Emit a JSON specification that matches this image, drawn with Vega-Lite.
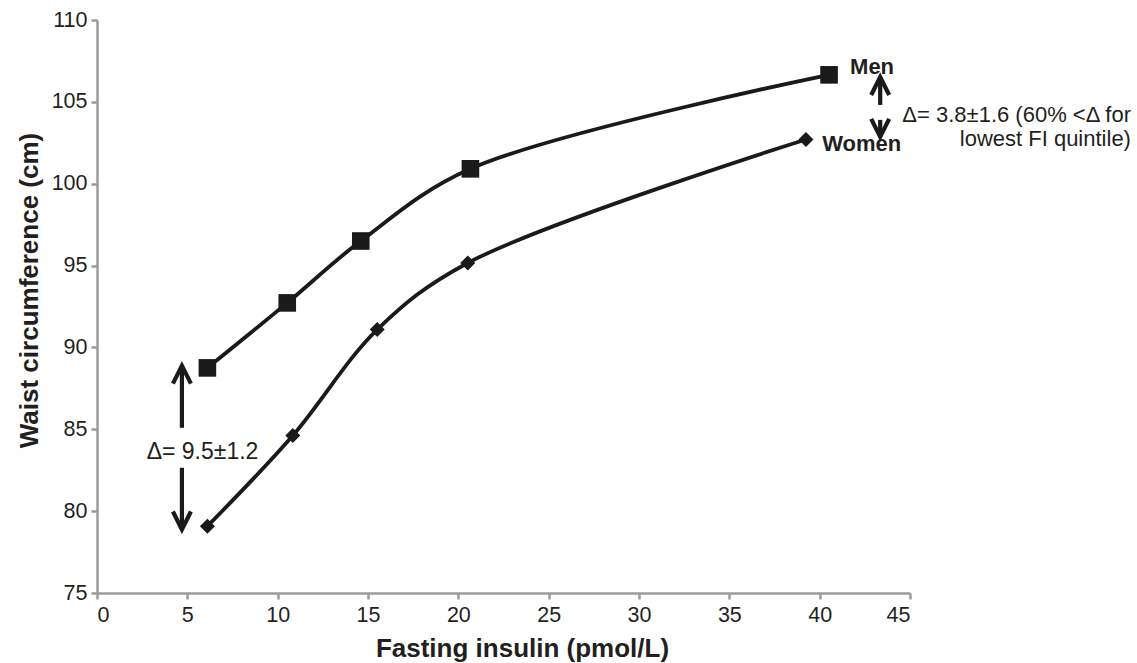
{
  "$schema": "https://vega.github.io/schema/vega-lite/v6.json",
  "width": 813,
  "height": 573,
  "autosize": {"type": "none"},
  "padding": {"left": 97, "top": 20, "right": 227, "bottom": 70},
  "background": "white",
  "config": {
    "view": {"stroke": null},
    "font": "Liberation Sans",
    "axis": {
      "grid": false,
      "domainColor": "#9b9b9b",
      "domainWidth": 2.5,
      "tickColor": "#9b9b9b",
      "tickWidth": 2.5,
      "tickSize": 6,
      "labelColor": "#231f20",
      "labelFontSize": 21.5,
      "labelFont": "Liberation Sans",
      "titleFont": "Liberation Sans",
      "titleFontSize": 26,
      "titleFontWeight": "bold",
      "titleColor": "#231f20"
    }
  },
  "datasets": {
    "series": [
      {"insulin": 6.11, "waist": 88.75, "sex": "Men"},
      {"insulin": 10.53, "waist": 92.72, "sex": "Men"},
      {"insulin": 14.6, "waist": 96.5, "sex": "Men"},
      {"insulin": 20.67, "waist": 100.91, "sex": "Men"},
      {"insulin": 40.52, "waist": 106.65, "sex": "Men"},
      {"insulin": 6.11, "waist": 79.08, "sex": "Women"},
      {"insulin": 10.84, "waist": 84.62, "sex": "Women"},
      {"insulin": 15.51, "waist": 91.09, "sex": "Women"},
      {"insulin": 20.52, "waist": 95.16, "sex": "Women"},
      {"insulin": 39.24, "waist": 102.7, "sex": "Women"}
    ],
    "shafts": [
      {"x": 4.7, "y": 88.89, "y2": 85.09},
      {"x": 4.7, "y": 82.65, "y2": 78.88},
      {"x": 43.35, "y": 106.52, "y2": 104.81},
      {"x": 43.35, "y": 103.9, "y2": 102.86}
    ],
    "heads": [
      {"x": 4.7, "y": 88.89, "dir": "up"},
      {"x": 4.7, "y": 78.88, "dir": "down"},
      {"x": 43.35, "y": 106.52, "dir": "up"},
      {"x": 43.35, "y": 102.86, "dir": "down"}
    ],
    "boldLabels": [
      {"x": 42.9, "y": 106.71, "label": "Men"},
      {"x": 42.33, "y": 102.0, "label": "Women"}
    ],
    "centerNotes": [
      {"x": 5.84, "y": 83.2, "label": "Δ= 9.5±1.2"}
    ],
    "rightNotes": [
      {"x": 57.23, "y": 103.78, "label": "Δ= 3.8±1.6 (60% <Δ for"},
      {"x": 57.23, "y": 102.31, "label": "lowest FI quintile)"}
    ]
  },
  "layer": [
    {
      "data": {"name": "series"},
      "mark": {"type": "line", "interpolate": "catmull-rom", "color": "#1a1a1a", "strokeWidth": 3.8},
      "encoding": {
        "x": {
          "field": "insulin", "type": "quantitative",
          "scale": {"domain": [0, 45], "nice": false, "zero": false},
          "axis": {"values": [0, 5, 10, 15, 20, 25, 30, 35, 40, 45], "title": "Fasting insulin (pmol/L)", "labelPadding": 5, "titleX": 425, "titleY": 63, "titleBaseline": "alphabetic", "titleAlign": "center"}
        },
        "y": {
          "field": "waist", "type": "quantitative",
          "scale": {"domain": [75, 110], "nice": false, "zero": false},
          "axis": {"values": [75, 80, 85, 90, 95, 100, 105, 110], "title": "Waist circumference (cm)", "labelPadding": 4, "titleX": -60, "titleY": 270, "titleAngle": 270, "titleBaseline": "alphabetic", "titleAlign": "center"}
        },
        "detail": {"field": "sex"}
      }
    },
    {
      "data": {"name": "series"},
      "transform": [{"filter": "datum.sex === 'Men'"}],
      "mark": {"type": "point", "shape": "square", "filled": true, "color": "#1a1a1a", "size": 310, "opacity": 1},
      "encoding": {
        "x": {"field": "insulin", "type": "quantitative"},
        "y": {"field": "waist", "type": "quantitative"}
      }
    },
    {
      "data": {"name": "series"},
      "transform": [{"filter": "datum.sex === 'Women'"}],
      "mark": {"type": "point", "shape": "diamond", "filled": true, "color": "#1a1a1a", "size": 225, "opacity": 1},
      "encoding": {
        "x": {"field": "insulin", "type": "quantitative"},
        "y": {"field": "waist", "type": "quantitative"}
      }
    },
    {
      "data": {"name": "shafts"},
      "mark": {"type": "rule", "color": "#1a1a1a", "strokeWidth": 4.2},
      "encoding": {
        "x": {"field": "x", "type": "quantitative"},
        "y": {"field": "y", "type": "quantitative"},
        "y2": {"field": "y2"}
      }
    },
    {
      "data": {"name": "heads"},
      "transform": [{"filter": "datum.dir === 'up'"}],
      "mark": {"type": "point", "shape": "M-0.5,1L0,0L0.5,1", "filled": false, "stroke": "#1a1a1a", "strokeWidth": 4.2, "size": 1296, "opacity": 1, "strokeJoin": "miter"},
      "encoding": {
        "x": {"field": "x", "type": "quantitative"},
        "y": {"field": "y", "type": "quantitative"}
      }
    },
    {
      "data": {"name": "heads"},
      "transform": [{"filter": "datum.dir === 'down'"}],
      "mark": {"type": "point", "shape": "M-0.5,-1L0,0L0.5,-1", "filled": false, "stroke": "#1a1a1a", "strokeWidth": 4.2, "size": 1296, "opacity": 1, "strokeJoin": "miter"},
      "encoding": {
        "x": {"field": "x", "type": "quantitative"},
        "y": {"field": "y", "type": "quantitative"}
      }
    },
    {
      "data": {"name": "boldLabels"},
      "mark": {"type": "text", "font": "Liberation Sans", "fontSize": 22, "fontWeight": "bold", "color": "#231f20", "align": "center", "baseline": "alphabetic"},
      "encoding": {
        "x": {"field": "x", "type": "quantitative"},
        "y": {"field": "y", "type": "quantitative"},
        "text": {"field": "label"}
      }
    },
    {
      "data": {"name": "centerNotes"},
      "mark": {"type": "text", "font": "Liberation Sans", "fontSize": 23, "color": "#231f20", "align": "center", "baseline": "alphabetic"},
      "encoding": {
        "x": {"field": "x", "type": "quantitative"},
        "y": {"field": "y", "type": "quantitative"},
        "text": {"field": "label"}
      }
    },
    {
      "data": {"name": "rightNotes"},
      "mark": {"type": "text", "font": "Liberation Sans", "fontSize": 22, "color": "#231f20", "align": "right", "baseline": "alphabetic"},
      "encoding": {
        "x": {"field": "x", "type": "quantitative"},
        "y": {"field": "y", "type": "quantitative"},
        "text": {"field": "label"}
      }
    }
  ]
}
